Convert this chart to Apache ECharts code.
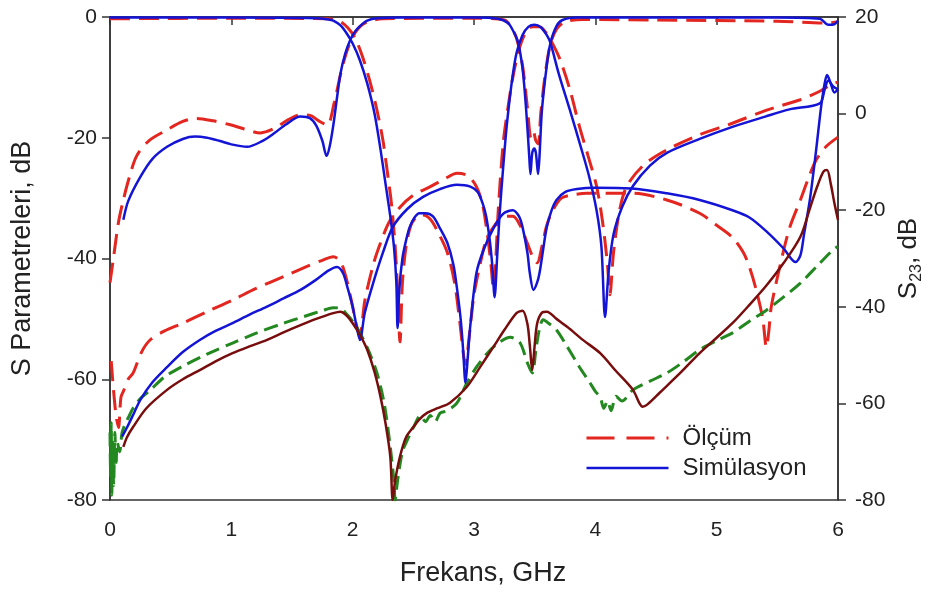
<!DOCTYPE html>
<html>
<head>
<meta charset="utf-8">
<script src="https://cdn.jsdelivr.net/npm/echarts@6/dist/echarts.min.js"></script>
<style>
html,body{margin:0;padding:0;background:#fff;}
#c{width:944px;height:594px;}
</style>
</head>
<body>
<div id="c"></div>
<script>
// Frequency axis ticks (GHz) and dB ticks
const xTicks = [0, 1, 2, 3, 4, 5, 6];
const leftTicks = [-80, -60, -40, -20, 0];
const rightTicks = [-80, -60, -40, -20, 0, 20];

// Curve A (high band with notch at 3.5 GHz)
const measA = [[0.0,-44],[0.03,-39.7],[0.07,-34],[0.11,-30.3],[0.16,-26.5],[0.22,-23],[0.32,-20.5],[0.47,-18.7],[0.6,-17.3],[0.71,-16.8],[0.85,-17.2],[1.0,-17.9],[1.1,-18.5],[1.24,-19.2],[1.35,-18.5],[1.47,-17],[1.57,-16.2],[1.65,-16.3],[1.72,-17.2],[1.79,-17.9],[1.85,-14],[1.9,-9.5],[1.95,-5.8],[2.0,-3.3],[2.05,-1.8],[2.12,-0.8],[2.25,-0.3],[3.0,-0.2],[3.25,-0.5],[3.3,-1.5],[3.35,-3.5],[3.4,-8],[3.44,-15],[3.47,-20],[3.49,-19],[3.51,-20.5],[3.53,-21],[3.55,-16],[3.59,-9],[3.63,-4.5],[3.68,-2],[3.75,-0.8],[3.9,-0.4],[4.5,-0.5],[5.5,-0.7],[5.9,-1.0],[6.0,-0.8]];
const simA = [[0.11,-33.6],[0.15,-30.5],[0.25,-26.5],[0.35,-23.5],[0.47,-21.5],[0.6,-20.2],[0.7,-19.8],[0.8,-20],[0.9,-20.5],[1.0,-21.1],[1.13,-21.5],[1.25,-20.6],[1.35,-19.3],[1.45,-17.8],[1.57,-16.5],[1.65,-16.8],[1.7,-18],[1.75,-20.5],[1.785,-23],[1.81,-21.5],[1.84,-18],[1.87,-13.5],[1.9,-9.3],[1.94,-6],[1.98,-3.8],[2.02,-2.4],[2.06,-1.5],[2.12,-0.6],[2.2,-0.2],[2.4,-0.1],[3.0,-0.1],[3.2,-0.3],[3.28,-1],[3.32,-2.2],[3.36,-4],[3.4,-8.5],[3.43,-15.4],[3.455,-23],[3.465,-26],[3.48,-22.5],[3.495,-21.8],[3.51,-22.5],[3.528,-26],[3.54,-23],[3.56,-15.4],[3.6,-8],[3.63,-4.3],[3.68,-1.5],[3.73,-0.5],[3.85,-0.1],[5.5,-0.1],[5.85,-0.3],[5.92,-1.3],[5.97,-1.2],[6.0,-0.6]];

// Curve B (low pass, then stop band)
const measB = [[0,-0.3],[1.0,-0.2],[1.8,-0.3],[1.9,-0.8],[1.96,-1.8],[2.02,-3.5],[2.08,-6.5],[2.14,-10.5],[2.2,-15.4],[2.25,-20.5],[2.28,-24.8],[2.32,-31],[2.35,-38],[2.37,-45],[2.39,-53.8],[2.41,-44],[2.44,-38],[2.48,-34.5],[2.53,-33],[2.58,-32.8],[2.64,-33.5],[2.7,-35.5],[2.78,-39],[2.84,-44],[2.88,-50],[2.93,-57.5],[2.96,-53],[3.0,-46],[3.05,-41],[3.1,-37],[3.17,-34.5],[3.25,-33],[3.32,-33],[3.38,-34.5],[3.44,-37.5],[3.49,-40],[3.52,-40.7],[3.56,-38],[3.6,-34.5],[3.65,-32],[3.72,-30],[3.8,-29.5],[3.93,-29.2],[4.3,-29.2],[4.59,-30.3],[4.86,-32.5],[5.0,-34.5],[5.13,-36.5],[5.22,-39],[5.27,-41.4],[5.33,-45.5],[5.38,-50],[5.41,-54.7],[5.43,-52],[5.45,-48],[5.52,-41.4],[5.6,-35],[5.69,-30.3],[5.76,-26.5],[5.82,-23.7],[5.9,-21.5],[6.0,-19.9]];
const simB = [[0,-0.1],[1.0,-0.1],[1.7,-0.2],[1.8,-0.4],[1.84,-0.6],[1.9,-1.4],[1.95,-2.7],[2.0,-4.4],[2.06,-7.2],[2.12,-11],[2.18,-16],[2.23,-22],[2.27,-27.5],[2.31,-33],[2.34,-38],[2.36,-44],[2.37,-51.5],[2.385,-45],[2.41,-40],[2.44,-37],[2.47,-34.8],[2.51,-33.2],[2.55,-32.5],[2.6,-32.5],[2.66,-33],[2.72,-35],[2.78,-37.4],[2.83,-41],[2.86,-45],[2.89,-50],[2.91,-55],[2.93,-60.6],[2.95,-56],[2.97,-51],[3.02,-42.4],[3.08,-38.5],[3.16,-35],[3.24,-32.6],[3.32,-32],[3.37,-33],[3.4,-34.8],[3.44,-39],[3.46,-42.4],[3.49,-45.2],[3.52,-44],[3.54,-42.4],[3.57,-38.5],[3.6,-34.8],[3.64,-32],[3.68,-30.3],[3.75,-29],[3.85,-28.5],[4.0,-28.3],[4.3,-28.4],[4.59,-29.2],[4.86,-30.3],[5.13,-32],[5.27,-33.2],[5.41,-35.5],[5.55,-38.3],[5.65,-40.6],[5.69,-39.5],[5.72,-36],[5.77,-30],[5.82,-22],[5.86,-15],[5.89,-11],[5.91,-9.6],[5.94,-11],[5.97,-12.5],[6.0,-12]];

// Curve C (band pass at 3.5 GHz)
const measC = [[0.01,-57],[0.03,-62],[0.05,-66],[0.07,-68],[0.09,-63],[0.11,-62],[0.15,-60],[0.19,-59],[0.26,-55.5],[0.33,-53.5],[0.45,-52],[0.6,-50.7],[0.8,-48.8],[1.01,-46.9],[1.2,-45],[1.43,-43],[1.6,-41.5],[1.75,-40.3],[1.84,-39.7],[1.9,-40.5],[1.95,-43.5],[2.0,-48],[2.03,-51],[2.06,-52.5],[2.1,-47],[2.17,-41],[2.23,-37.4],[2.3,-34],[2.39,-31.5],[2.5,-29.5],[2.64,-28.1],[2.76,-26.8],[2.86,-25.9],[2.95,-26.3],[3.02,-28.1],[3.07,-31],[3.11,-36],[3.14,-41],[3.16,-45],[3.18,-40],[3.2,-32],[3.24,-21],[3.28,-15],[3.32,-10],[3.37,-5.5],[3.42,-2.8],[3.48,-1.6],[3.54,-1.6],[3.6,-2.8],[3.65,-4.5],[3.71,-7.1],[3.79,-12],[3.87,-18.2],[3.94,-23],[4.01,-28],[4.06,-34],[4.1,-41],[4.12,-46],[4.15,-39],[4.2,-32],[4.26,-28],[4.4,-24.5],[4.59,-22],[4.86,-19.5],[5.13,-17.6],[5.4,-15.5],[5.69,-13.7],[5.85,-12.3],[5.96,-11],[6.0,-10.8]];
const simC = [[0.1,-69.5],[0.14,-68],[0.2,-65.5],[0.25,-63.4],[0.35,-60.5],[0.47,-58],[0.6,-55.5],[0.74,-53.5],[0.87,-52],[1.01,-50.7],[1.15,-49.3],[1.29,-48],[1.43,-46.6],[1.57,-45.2],[1.7,-43.5],[1.8,-42],[1.87,-41.4],[1.92,-42.4],[1.96,-45],[2.0,-48],[2.03,-51],[2.06,-53.5],[2.1,-49],[2.17,-44],[2.25,-39],[2.33,-34.8],[2.45,-31.8],[2.58,-29.8],[2.72,-28.5],[2.86,-27.8],[2.97,-28.1],[3.03,-29],[3.07,-30.8],[3.1,-33],[3.13,-37],[3.15,-41],[3.17,-46.4],[3.19,-40],[3.21,-33],[3.24,-25],[3.27,-18],[3.31,-11],[3.35,-6],[3.4,-3],[3.45,-1.6],[3.5,-1.3],[3.55,-1.7],[3.6,-3],[3.63,-4.3],[3.7,-9.5],[3.79,-15.4],[3.88,-21.5],[3.95,-26.5],[4.01,-32],[4.05,-38],[4.08,-49.7],[4.11,-42],[4.15,-36],[4.22,-31.5],[4.31,-28],[4.45,-24.6],[4.59,-22.5],[4.86,-20.2],[5.13,-18.2],[5.4,-16.5],[5.6,-15.3],[5.85,-14.3],[5.89,-12],[5.92,-10.5],[5.96,-11.5],[6.0,-12]];

// S23 (right axis)
const measS23 = [[0.0,-66],[0.005,-75],[0.01,-64],[0.015,-79],[0.02,-68],[0.03,-77],[0.04,-66],[0.05,-73],[0.06,-68],[0.08,-70],[0.1,-66],[0.13,-64],[0.16,-62.5],[0.19,-61],[0.25,-59],[0.33,-57.3],[0.45,-54.5],[0.6,-52.3],[0.8,-49.8],[1.01,-47.5],[1.2,-45.5],[1.43,-43.4],[1.6,-42],[1.75,-40.8],[1.84,-40.2],[1.9,-40.3],[1.95,-41.5],[2.0,-43],[2.06,-45.4],[2.13,-49],[2.2,-53.7],[2.26,-60],[2.31,-69],[2.34,-76],[2.35,-80],[2.37,-76],[2.41,-70],[2.45,-67.6],[2.5,-65],[2.56,-62.5],[2.6,-63.8],[2.64,-62.5],[2.68,-63.8],[2.72,-62],[2.78,-61.5],[2.86,-59.9],[2.94,-55.8],[3.02,-52.5],[3.11,-49.6],[3.2,-47.5],[3.3,-46.3],[3.38,-47.5],[3.44,-51.6],[3.48,-53.7],[3.51,-49],[3.54,-44.5],[3.57,-42.7],[3.62,-43.5],[3.68,-44.8],[3.75,-47.5],[3.87,-52.5],[3.95,-55.5],[4.0,-57.5],[4.04,-58.7],[4.07,-61],[4.1,-59.5],[4.13,-61.5],[4.17,-58.5],[4.22,-59.5],[4.31,-57.2],[4.45,-55.4],[4.59,-53.7],[4.72,-51.5],[4.86,-48.9],[5.0,-47],[5.13,-45.4],[5.27,-43],[5.41,-40.7],[5.55,-38],[5.69,-35.1],[5.83,-31.5],[5.96,-28.2],[6.0,-27.5]];
const simS23 = [[0.11,-69],[0.14,-67],[0.19,-64.9],[0.3,-61],[0.47,-57.2],[0.6,-55],[0.74,-53.1],[0.87,-51.3],[1.01,-49.6],[1.15,-48.2],[1.29,-46.9],[1.43,-45.3],[1.57,-43.8],[1.7,-42.5],[1.84,-41.3],[1.9,-41],[1.95,-41.8],[2.0,-43.4],[2.06,-45.8],[2.12,-48.9],[2.18,-53.5],[2.23,-58.7],[2.27,-64],[2.31,-71],[2.33,-80],[2.35,-76],[2.39,-71],[2.44,-67],[2.5,-64.9],[2.55,-63.3],[2.61,-62],[2.7,-61],[2.8,-59.9],[2.94,-56.6],[3.05,-52.5],[3.16,-48.3],[3.25,-44.8],[3.35,-41.3],[3.4,-40.8],[3.44,-43.5],[3.46,-48],[3.48,-53.1],[3.5,-48],[3.52,-43.5],[3.56,-41.2],[3.6,-41],[3.68,-42.5],[3.77,-44.2],[3.9,-46.9],[4.04,-49.6],[4.17,-53.3],[4.31,-57.2],[4.36,-59.8],[4.39,-60.7],[4.43,-60.2],[4.53,-57.8],[4.7,-53.7],[4.86,-49.6],[5.0,-46.4],[5.13,-43.4],[5.27,-39.6],[5.41,-35.6],[5.55,-31],[5.69,-25.5],[5.77,-19.5],[5.83,-15],[5.88,-12],[5.91,-11.7],[5.94,-14.5],[5.97,-18.5],[6.0,-22]];

const MEAS = 'Ölçüm', SIM = 'Simülasyon';
const RED = '#e3261f', BLUE = '#1414d6', GREEN = '#22881f', DARKRED = '#780d0d';
const FONT = 'Liberation Sans, Arial, sans-serif';
const INK = '#222';

function line(name, data, color, dashed, yIdx, dash) {
  return {
    name: name, type: 'line', data: data, yAxisIndex: yIdx || 0,
    symbol: 'none', smooth: 0.3, clip: true,
    lineStyle: { color: color, width: dashed ? 3 : 2.5, type: dashed ? (dash || [20, 9]) : 'solid' },
    itemStyle: { color: color },
    z: dashed ? 2 : 3
  };
}

const chart = echarts.init(document.getElementById('c'), null, { renderer: 'canvas' });
chart.setOption({
  animation: false,
  backgroundColor: '#fff',
  textStyle: { fontFamily: FONT },
  grid: { left: 110, right: 106, top: 17, bottom: 94, show: true, borderColor: '#333', borderWidth: 1.5 },
  legend: {
    data: [
      { name: MEAS, itemStyle: { opacity: 0 }, lineStyle: { type: [28, 12], width: 3 } },
      { name: SIM, itemStyle: { opacity: 0 }, lineStyle: { width: 2.5 } }
    ],
    orient: 'vertical', left: 580, top: 421, itemWidth: 82, itemHeight: 16, itemGap: 6,
    textStyle: { fontSize: 24, color: INK, fontFamily: FONT, padding: [0, 0, 0, 9] }
  },
  xAxis: {
    type: 'value', min: xTicks[0], max: xTicks[xTicks.length - 1], interval: 1,
    name: 'Frekans, GHz', nameLocation: 'middle', nameGap: 60,
    nameTextStyle: { fontSize: 27, color: INK, fontFamily: FONT, padding: [0, 0, 0, 18] },
    axisLine: { lineStyle: { color: '#333', width: 1.5 } },
    axisTick: { inside: false, length: 8, lineStyle: { color: '#333', width: 1.5 } },
    axisLabel: { fontSize: 21, color: INK, margin: 20, fontFamily: FONT },
    splitLine: { show: false }
  },
  yAxis: [{
    type: 'value', min: leftTicks[0], max: leftTicks[leftTicks.length - 1], interval: 20, position: 'left',
    name: 'S Parametreleri, dB', nameLocation: 'middle', nameGap: 74, nameRotate: 90,
    nameTextStyle: { fontSize: 27, color: INK, fontFamily: FONT },
    axisLine: { show: true, lineStyle: { color: '#333', width: 1.5 } },
    axisTick: { show: true, length: 8, lineStyle: { color: '#333', width: 1.5 } },
    axisLabel: { fontSize: 21, color: INK, margin: 13, fontFamily: FONT },
    splitLine: { show: false }
  }, {
    type: 'value', min: rightTicks[0], max: rightTicks[rightTicks.length - 1], interval: 20, position: 'right',
    name: '{a|S}{b|23}{a|, dB}', nameLocation: 'middle', nameGap: 52, nameRotate: 90,
    nameTextStyle: { fontSize: 26, color: INK, fontFamily: FONT,
      rich: { a: { fontSize: 26, color: INK, fontFamily: FONT, lineHeight: 30 },
              b: { fontSize: 16, color: INK, fontFamily: FONT, lineHeight: 30, verticalAlign: 'bottom', padding: [12, 0, 0, 0] } } },
    axisLine: { show: true, lineStyle: { color: '#333', width: 1.5 } },
    axisTick: { show: true, length: 8, lineStyle: { color: '#333', width: 1.5 } },
    axisLabel: { fontSize: 21, color: INK, margin: 17, fontFamily: FONT },
    splitLine: { show: false }
  }],
  series: [
    line(MEAS, measA, RED, true),
    line(MEAS, measB, RED, true),
    line(MEAS, measC, RED, true),
    line(SIM, simA, BLUE, false),
    line(SIM, simB, BLUE, false),
    line(SIM, simC, BLUE, false),
    line('S23 ölçüm', measS23, GREEN, true, 1, [14, 7]),
    line('S23 simülasyon', simS23, DARKRED, false, 1)
  ]
});
</script>
</body>
</html>
